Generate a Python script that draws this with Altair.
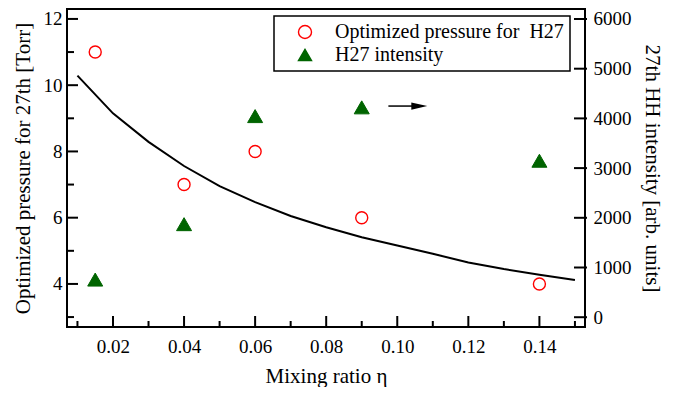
import altair as alt
import pandas as pd

# ---- data ----
mix_ratio = [0.015, 0.04, 0.06, 0.09, 0.14]
opt_pressure = [11, 7, 8, 6, 4]
h27_intensity = [757, 1872, 4046, 4222, 3148]

fit_eta = [0.01, 0.02, 0.03, 0.04, 0.05, 0.06, 0.07, 0.08, 0.09, 0.10, 0.11, 0.12, 0.13, 0.14, 0.15]
fit_pressure = [10.29, 9.15, 8.29, 7.56, 6.95, 6.47, 6.05, 5.71, 5.41, 5.16, 4.91, 4.65, 4.45, 4.28, 4.12]

series_names = ["Optimized pressure for\u00a0\u00a0H27", "H27 intensity"]

x_major = [0.02, 0.04, 0.06, 0.08, 0.10, 0.12, 0.14]
x_minor = [0.01, 0.03, 0.05, 0.07, 0.09, 0.11, 0.13, 0.15]
left_major = [4, 6, 8, 10, 12]
left_minor = [3, 5, 7, 9, 11]
right_major = [0, 1000, 2000, 3000, 4000, 5000, 6000]

arrow_start = [0.0975]
arrow_head = [0.1062]
arrow_level = [9.37]

FONT = "Liberation Serif"
W, H = 518, 318

# ---- tables ----
df_fit = pd.DataFrame({"eta": fit_eta, "p": fit_pressure})
df_p = pd.DataFrame({"eta": mix_ratio, "p": opt_pressure, "series": series_names[0]})
df_i = pd.DataFrame({"eta": mix_ratio, "i": h27_intensity, "series": series_names[1]})
df_xmaj = pd.DataFrame({"eta": x_major})
df_xmin = pd.DataFrame({"eta": x_minor})
df_lmaj = pd.DataFrame({"p": left_major})
df_lmin = pd.DataFrame({"p": left_minor})
df_rmaj = pd.DataFrame({"i": right_major})
df_arrow = pd.DataFrame({"eta": arrow_start, "b": arrow_head, "p": arrow_level})
df_tip = pd.DataFrame({"eta": arrow_head, "p": arrow_level})

xscale = alt.Scale(domain=[0.00706, 0.15283], nice=False, zero=False)
yl_scale = alt.Scale(domain=[2.70, 12.30], nice=False, zero=False)
yr_scale = alt.Scale(domain=[-197, 6201], nice=False, zero=False)

x_axis = alt.Axis(values=x_major, format=".2f", ticks=False, domain=False, grid=False,
                  labelFont=FONT, labelFontSize=19, labelColor="black", labelPadding=10,
                  title="Mixing ratio η", titleFont=FONT, titleFontSize=21,
                  titleFontWeight="normal", titleColor="black", titlePadding=9)
left_axis = alt.Axis(orient="left", values=left_major, ticks=False, domain=False, grid=False,
                     labelFont=FONT, labelFontSize=19, labelColor="black", labelPadding=5,
                     title="Optimized pressure for 27th [Torr]", titleFont=FONT,
                     titleFontSize=21, titleFontWeight="normal", titleColor="black",
                     titlePadding=10)
right_axis = alt.Axis(orient="right", values=right_major, format="d", ticks=False,
                      domain=False, grid=False,
                      labelFont=FONT, labelFontSize=19, labelColor="black", labelPadding=8,
                      title="27th HH intensity [arb. units]", titleFont=FONT,
                      titleFontSize=21, titleFontWeight="normal", titleColor="black",
                      titlePadding=10)

legend = alt.Legend(title=None, orient="none", legendX=207, legendY=7, padding=6,
                    rowPadding=3, symbolOffset=15, labelOffset=20, labelFont=FONT,
                    labelFontSize=20, labelColor="black", labelLimit=400,
                    strokeColor="black", fillColor="white", symbolSize=170,
                    symbolStrokeWidth=1.4)

stroke_enc = alt.Stroke("series:N", scale=alt.Scale(domain=series_names, range=["#ff0000", "#006400"]), legend=legend)
fill_enc = alt.Fill("series:N", scale=alt.Scale(domain=series_names, range=["transparent", "#006400"]), legend=legend)
shape_enc = alt.Shape("series:N", scale=alt.Scale(domain=series_names, range=["circle", "triangle-up"]), legend=legend)

X = alt.X("eta:Q", scale=xscale, axis=x_axis)
YL = alt.Y("p:Q", scale=yl_scale, axis=left_axis)
YR = alt.Y("i:Q", scale=yr_scale, axis=right_axis)

# ---- left-axis group ----
fit_line = alt.Chart(df_fit).mark_line(color="black", strokeWidth=2).encode(x=X, y=YL)
circles = alt.Chart(df_p).mark_point(size=144, strokeWidth=1.4, opacity=1).encode(
    x=X, y=YL, stroke=stroke_enc, fill=fill_enc, shape=shape_enc)
lt_major = alt.Chart(df_lmaj).mark_rule(color="black", strokeWidth=2).encode(
    y=YL, x=alt.value(0), x2=alt.value(11))
lt_minor = alt.Chart(df_lmin).mark_rule(color="black", strokeWidth=2).encode(
    y=YL, x=alt.value(0), x2=alt.value(7))
xt_major = alt.Chart(df_xmaj).mark_rule(color="black", strokeWidth=2).encode(
    x=X, y=alt.value(H), y2=alt.value(H - 11))
xt_minor = alt.Chart(df_xmin).mark_rule(color="black", strokeWidth=2).encode(
    x=X, y=alt.value(H), y2=alt.value(H - 6))
arrow_shaft = alt.Chart(df_arrow).mark_rule(color="black", strokeWidth=1.5).encode(
    x=X, x2="b:Q", y=YL)
arrow_tip = alt.Chart(df_tip).mark_point(
    shape="M-1,-0.45L1,0L-1,0.45Z", size=256, filled=True, color="black", opacity=1
).encode(x=X, y=YL)
frame = alt.Chart(df_tip).mark_rect(fill="transparent", stroke="black", strokeWidth=2).encode(
    x=alt.value(0), x2=alt.value(W), y=alt.value(0), y2=alt.value(H))

left_group = alt.layer(fit_line, circles, lt_major, lt_minor, xt_major, xt_minor,
                       arrow_shaft, arrow_tip, frame)

# ---- right-axis group ----
triangles = alt.Chart(df_i).mark_point(size=225, strokeWidth=1, opacity=1).encode(
    x=X, y=YR, stroke=stroke_enc, fill=fill_enc, shape=shape_enc)
rt_major = alt.Chart(df_rmaj).mark_rule(color="black", strokeWidth=2).encode(
    y=YR, x=alt.value(W - 11), x2=alt.value(W + 2))

right_group = alt.layer(triangles, rt_major)

chart = alt.layer(left_group, right_group).resolve_scale(y="independent").properties(
    width=W, height=H,
    autosize=alt.AutoSizeParams(type="none"),
    padding={"left": 59, "top": 1, "right": 91, "bottom": 60},
    background="white",
).configure_view(stroke=None).configure_legend(strokeWidth=1.5)

chart.save("out.html", embed_options={"renderer": "svg", "actions": False})
